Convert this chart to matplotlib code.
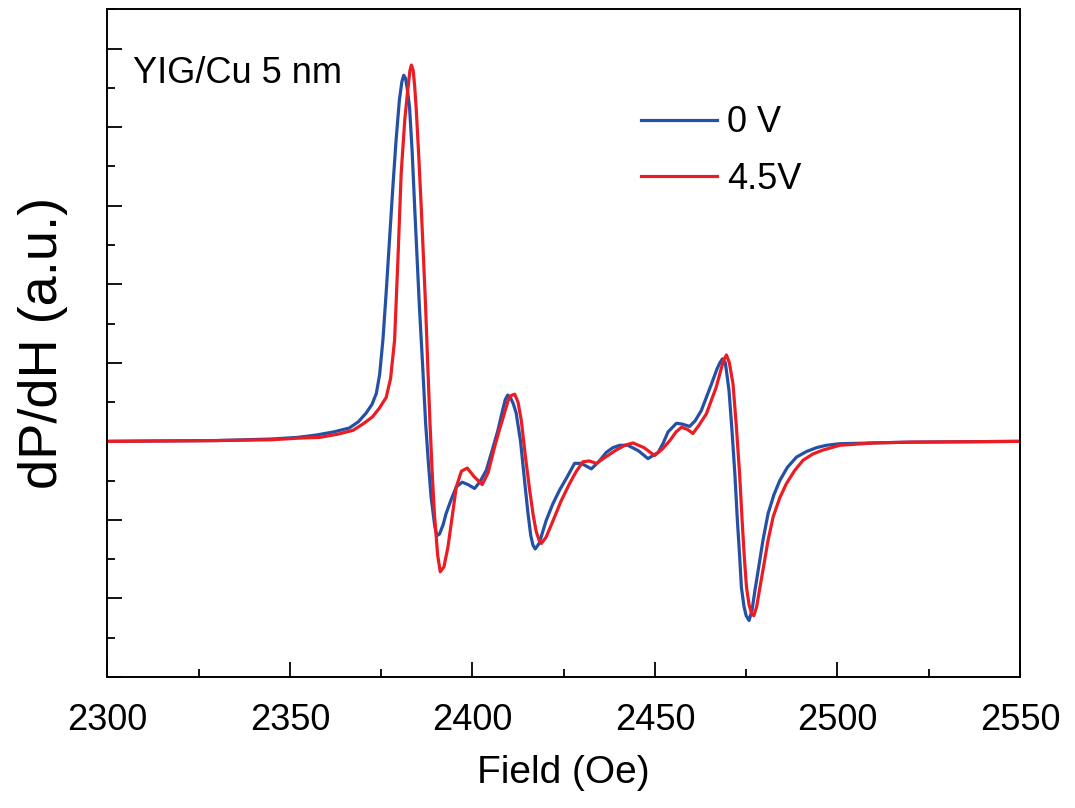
import matplotlib.pyplot as plt
from matplotlib.ticker import MultipleLocator

# FMR derivative spectra (field in Oe, signal in a.u.)
field_0v = [2300, 2330, 2345, 2352, 2357.2, 2362, 2366.3, 2368.8, 2370.9, 2372.5, 2373.7,
            2374.6, 2375.5, 2376.4, 2377.3, 2378.2, 2379.1, 2380.0, 2380.7, 2381.2, 2381.7,
            2382.2, 2382.8, 2383.5, 2384.2, 2385.5, 2386.4, 2387.2, 2388.0, 2388.7, 2389.7,
            2390.3, 2391.0, 2392.0, 2392.8, 2394.2, 2395.6, 2397.2, 2398.8, 2400.6, 2402.0,
            2403.8, 2405.4, 2407.0, 2408.2, 2409.0, 2409.7, 2410.5, 2411.2, 2412.0, 2413.2,
            2414.3, 2415.2, 2416.0, 2416.6, 2417.2, 2418.3, 2420.2, 2422.0, 2423.9, 2426.0,
            2428.0, 2429.8, 2432.6, 2434.6, 2436.7, 2438.5, 2440.4, 2442.6, 2445.5, 2448.1,
            2450.9, 2452.3, 2453.6, 2455.9, 2457.5, 2459.5, 2461.0, 2462.7, 2465.5, 2467.0,
            2467.8, 2468.5, 2469.3, 2470.3, 2471.1, 2471.9, 2472.6, 2473.2, 2473.7, 2474.4,
            2475.0, 2475.8, 2476.6, 2477.4, 2478.3, 2479.6, 2481.0, 2482.6, 2484.2, 2486.3,
            2488.8, 2491.5, 2494.3, 2497.0, 2500.7, 2510, 2520, 2550]
signal_0v = [0.0, 0.01, 0.03, 0.05, 0.08, 0.12, 0.17, 0.25, 0.36, 0.47, 0.61,
             0.85, 1.29, 1.90, 2.56, 3.22, 3.83, 4.34, 4.58, 4.66, 4.62,
             4.48, 4.25, 3.70, 2.98, 1.71, 0.95, 0.23, -0.30, -0.71, -1.08,
             -1.20, -1.18, -1.06, -0.92, -0.74, -0.58, -0.52, -0.55, -0.60, -0.52,
             -0.37, -0.12, 0.14, 0.38, 0.53, 0.59, 0.55, 0.48, 0.36, 0.00,
             -0.50, -0.90, -1.20, -1.32, -1.37, -1.30, -1.01, -0.80, -0.62, -0.45,
             -0.28, -0.28, -0.35, -0.26, -0.14, -0.08, -0.05, -0.05, -0.12, -0.22,
             -0.14, -0.02, 0.12, 0.23, 0.22, 0.19, 0.26, 0.39, 0.73, 0.92,
             1.00, 1.05, 1.00, 0.65, 0.15, -0.41, -1.01, -1.45, -1.86, -2.10,
             -2.22, -2.28, -2.15, -1.90, -1.64, -1.26, -0.92, -0.68, -0.50, -0.33,
             -0.20, -0.13, -0.08, -0.05, -0.03, -0.02, -0.01, 0.0]

field_45v = [2300, 2330, 2345, 2352, 2358.1, 2363, 2367.3, 2370, 2372.6, 2374.5, 2376.4,
             2377.6, 2378.7, 2379.6, 2380.5, 2381.5, 2382.3, 2382.9, 2383.3, 2383.8, 2384.2,
             2384.6, 2385.3, 2386.0, 2386.6, 2387.2, 2387.8, 2388.4, 2389.0, 2389.6, 2390.5,
             2391.2, 2392.2, 2393.3, 2394.5, 2395.6, 2397.0, 2398.6, 2400.5, 2402.7, 2404.3,
             2406.1, 2407.5, 2408.8, 2409.8, 2410.5, 2411.6, 2412.5, 2413.4, 2414.5, 2415.7,
             2416.7, 2417.5, 2418.3, 2418.9, 2420.2, 2422.1, 2424.3, 2426.6, 2428.5, 2430.3,
             2432.0, 2434.0, 2436.5, 2439.4, 2441.8, 2444.0, 2447.0, 2449.9, 2452.0, 2454.1,
             2455.8, 2457.3, 2459.0, 2460.4, 2462.0, 2464.1, 2466.8, 2468.2, 2468.9, 2469.6,
             2470.4, 2471.4, 2472.3, 2473.2, 2473.9, 2474.5, 2475.1, 2475.8, 2476.5, 2477.1,
             2477.9, 2478.7, 2479.6, 2481.0, 2482.4, 2484.2, 2486.0, 2488.3, 2490.6, 2493.3,
             2496.1, 2500.7, 2510, 2520, 2550]
signal_45v = [0.0, 0.01, 0.02, 0.04, 0.05, 0.09, 0.14, 0.22, 0.31, 0.42, 0.56,
              0.80, 1.29, 2.30, 3.41, 4.10, 4.47, 4.72, 4.79, 4.72, 4.52,
              4.25, 3.65, 2.98, 2.35, 1.71, 0.95, 0.23, -0.40, -0.92, -1.45,
              -1.66, -1.60, -1.35, -0.95, -0.58, -0.38, -0.34, -0.45, -0.55, -0.40,
              -0.07, 0.16, 0.36, 0.52, 0.58, 0.60, 0.50, 0.27, -0.18, -0.62,
              -0.95, -1.15, -1.26, -1.30, -1.22, -1.01, -0.76, -0.54, -0.38, -0.26,
              -0.25, -0.28, -0.20, -0.11, -0.05, -0.02, -0.08, -0.18, -0.10, 0.01,
              0.12, 0.18, 0.15, 0.10, 0.20, 0.35, 0.69, 0.93, 1.04, 1.10,
              1.00, 0.73, 0.20, -0.41, -1.01, -1.48, -1.86, -2.08, -2.19, -2.22,
              -2.10, -1.88, -1.64, -1.26, -0.96, -0.72, -0.54, -0.37, -0.24, -0.16,
              -0.11, -0.05, -0.02, -0.01, 0.0]

plt.rcParams['font.family'] = ['Liberation Sans', 'DejaVu Sans']

fig = plt.figure(figsize=(10.75, 8.08), dpi=100)
ax = fig.add_axes([0.0998, 0.1621, 0.849, 0.8264])

ax.plot(field_0v, signal_0v, color='#2451a6', lw=2.3, label='0 V')
ax.plot(field_45v, signal_45v, color='#ec1c24', lw=2.3, label='4.5V')

ax.set_xlim(2300, 2550)
ax.set_ylim(-3, 5.5)
ax.xaxis.set_major_locator(MultipleLocator(50))
ax.xaxis.set_minor_locator(MultipleLocator(25))
ax.yaxis.set_major_locator(MultipleLocator(1))
ax.yaxis.set_minor_locator(MultipleLocator(0.5))
ax.tick_params(which='both', direction='in', width=1.3, labelleft=False)
ax.tick_params(which='major', length=11)
ax.tick_params(which='minor', length=5.5)
ax.tick_params(axis='x', labelsize=26, pad=19)
for sp in ax.spines.values():
    sp.set_linewidth(1.4)

ax.set_xlabel('Field (Oe)', fontsize=28, labelpad=12)
ax.set_ylabel('dP/dH (a.u.)', fontsize=39, labelpad=28)

ax.text(0.028, 0.89, 'YIG/Cu 5 nm', transform=ax.transAxes, fontsize=26, va='baseline')

ax.legend(loc='upper left', bbox_to_anchor=(0.585, 0.856), frameon=False, fontsize=26,
          handlelength=2.1, handletextpad=0.28, labelspacing=0.6, borderpad=0, borderaxespad=0)

fig.savefig('out.png', dpi=100)
